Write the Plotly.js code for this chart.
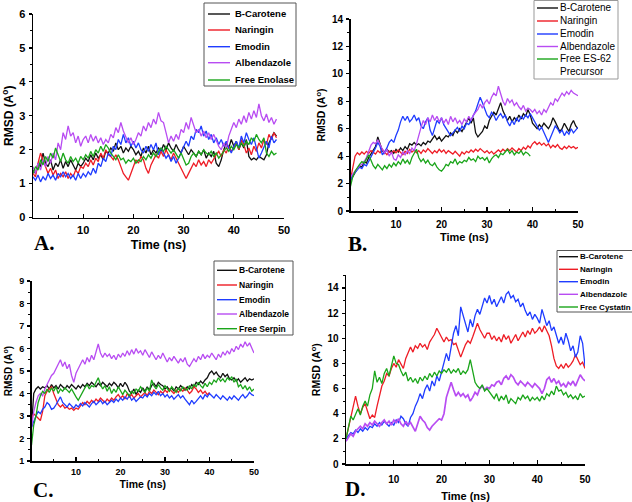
<!DOCTYPE html>
<html><head><meta charset="utf-8">
<script src="https://cdn.plot.ly/plotly-3.0.1.min.js"></script>
<style>html,body{margin:0;padding:0;background:#fff}#chart{width:632px;height:502px}</style>
</head><body><div id="chart"></div>
<script>
// ---------- data ----------
const time = [0,0.5,1,1.5,2,2.5,3,3.5,4,4.5,5,5.5,6,6.5,7,7.5,8,8.5,9,9.5,
  10,10.5,11,11.5,12,12.5,13,13.5,14,14.5,15,15.5,16,16.5,17,17.5,18,18.5,19,19.5,
  20,20.5,21,21.5,22,22.5,23,23.5,24,24.5,25,25.5,26,26.5,27,27.5,28,28.5,29,29.5,
  30,30.5,31,31.5,32,32.5,33,33.5,34,34.5,35,35.5,36,36.5,37,37.5,38,38.5,39,39.5,
  40,40.5,41,41.5,42,42.5,43,43.5,44,44.5,45,45.5,46,46.5,47,47.5,48,48.5,49,49.5,50];

const ligands = ["B-Carotene","Naringin","Emodin","Albendazole"];
const freeNames = ["Free Enolase","Free ES-62<br>Precursor","Free Serpin","Free Cystatin"];
const panelLabels = ["A.","B.","C.","D."];
const xTickVals = [10,20,30,40,50];
const xMinorVals = [5,15,25,35,45];

// Panel A (Enolase)
const aCarotene = [1.4,1.3,1.6,1.5,1.9,1.6,1.5,1.7,1.4,1.6,1.5,1.7,1.45,1.65,1.5,1.7,1.55,1.4,1.6,1.5,
  1.6,1.75,1.65,1.85,1.7,1.9,1.75,1.85,1.7,1.95,1.9,2.05,1.95,2.2,2.0,2.1,1.9,2.05,1.95,2.1,
  2.0,1.85,1.95,1.8,2.05,1.9,2.1,1.85,2.0,1.9,2.05,1.95,2.15,2.0,2.2,2.05,1.95,2.15,2.0,1.9,
  2.1,1.95,1.85,2.0,1.9,1.8,1.95,1.85,2.0,1.75,1.9,1.8,1.95,1.6,1.5,1.7,2.0,2.2,2.05,2.3,
  2.1,2.25,2.0,2.2,2.05,2.3,1.8,1.7,1.75,1.7,1.8,1.75,1.7,1.85,2.2,2.35,2.5,2.4];
const aNaringin = [1.3,1.2,1.6,1.9,1.7,1.5,1.3,1.45,1.25,1.4,1.15,1.3,1.2,1.35,1.15,1.3,1.2,1.4,1.3,1.5,
  1.45,1.6,1.5,1.7,1.55,1.75,1.65,1.9,1.75,2.0,1.85,1.8,1.7,1.85,1.7,1.5,1.3,1.2,1.1,1.3,
  1.5,1.7,1.6,1.8,1.7,1.45,1.3,1.55,1.7,1.85,1.75,1.95,1.8,2.0,1.85,1.7,1.9,1.75,1.6,1.45,
  1.25,1.15,1.3,1.45,1.6,1.5,1.7,1.55,1.65,1.5,1.7,1.6,1.75,1.85,1.95,1.8,2.0,1.9,2.1,1.95,
  2.05,2.2,2.0,2.3,2.15,1.9,2.05,1.85,2.1,1.95,2.2,2.05,2.3,2.15,2.45,2.3,2.5,2.35];
const aEmodin = [1.2,1.1,1.25,1.05,1.2,1.1,1.3,1.15,1.25,1.1,1.3,1.2,1.35,1.2,1.3,1.15,1.25,1.1,1.3,1.15,
  1.3,1.2,1.35,1.25,1.45,1.3,1.6,1.5,1.75,1.65,1.9,1.8,2.1,2.0,2.3,2.15,2.45,2.2,2.35,2.1,
  2.25,2.05,2.2,2.0,1.9,2.1,1.95,2.15,2.0,2.2,1.85,2.05,1.9,1.75,1.85,1.65,1.8,1.6,1.75,1.9,
  2.05,2.25,2.1,2.4,2.3,2.6,2.5,2.7,2.4,2.55,2.3,2.45,2.2,2.35,2.15,2.3,2.1,2.25,2.05,1.9,
  2.1,2.25,2.05,2.4,2.2,2.5,2.3,2.15,2.35,2.0,1.75,1.9,2.1,2.25,2.05,2.4,2.2,2.3];
const aAlbendazole = [1.5,1.3,1.6,1.4,1.7,1.5,1.8,1.6,1.9,1.7,2.2,2.0,2.5,2.3,2.7,2.4,2.5,2.2,2.4,2.1,
  2.3,2.4,2.2,2.45,2.25,2.4,2.2,2.35,2.15,2.3,2.2,2.45,2.35,2.65,2.5,2.8,2.55,2.4,2.2,2.35,
  2.15,2.3,2.5,2.4,2.7,2.55,2.8,2.65,2.9,2.75,3.1,2.85,2.8,2.5,2.2,2.4,2.25,2.45,2.3,2.6,
  2.5,2.8,2.6,2.95,2.7,2.5,2.6,2.4,2.55,2.35,2.5,2.3,2.45,2.25,2.1,2.0,2.2,2.05,2.4,2.6,
  2.8,2.65,2.9,2.75,3.0,2.8,3.1,2.9,3.15,2.95,3.35,3.0,2.85,3.05,2.8,2.95,2.75,2.9];
const aFree = [1.3,1.5,1.4,1.7,1.55,1.8,1.65,1.9,1.75,2.05,1.85,1.65,1.9,1.7,1.6,1.8,1.65,1.75,1.6,1.8,
  1.7,1.85,1.75,1.95,1.8,2.0,1.9,2.1,1.95,2.15,2.05,1.9,1.8,1.7,1.85,1.7,1.75,1.6,1.7,1.65,
  1.75,1.6,1.7,1.65,1.8,1.7,1.85,1.75,1.9,1.8,1.95,2.05,1.95,2.1,2.0,1.9,2.0,1.85,1.75,1.9,
  1.7,1.55,1.6,1.8,1.9,1.8,1.95,1.85,2.0,1.9,1.85,1.95,1.8,1.9,1.75,1.85,1.95,2.05,1.95,2.1,
  2.0,2.15,2.05,2.2,2.1,2.25,2.15,2.35,2.25,2.45,2.3,2.2,2.35,1.9,1.8,1.95,1.85,1.9];

// Panel B (ES-62 precursor)
const bCarotene = [2.2,2.5,2.9,3.1,3.3,3.2,3.6,3.5,3.9,4.2,4.4,4.7,5.4,4.8,4.4,4.2,4.5,4.3,4.4,4.2,
  4.5,4.3,4.6,4.4,4.7,4.5,4.9,4.8,5.0,4.8,4.9,4.75,5.0,4.85,5.1,5.0,5.3,5.5,5.2,5.4,
  5.1,5.3,5.5,5.4,5.7,5.5,5.9,5.7,6.0,5.8,6.1,6.5,6.8,6.4,6.8,5.7,5.4,5.6,5.8,6.2,
  6.0,6.6,6.9,7.2,7.0,7.5,7.9,7.3,7.0,6.6,6.9,6.5,6.8,6.6,7.0,6.7,7.1,6.9,7.4,7.0,
  6.4,6.2,6.0,6.3,6.1,6.4,6.2,6.0,6.3,6.8,6.5,6.1,5.8,6.0,6.4,6.1,5.8,6.3,6.6,6.2,6.0];
const bNaringin = [2.3,3.2,4.0,4.25,4.1,4.3,4.15,4.35,4.2,4.4,4.3,4.15,4.4,4.25,4.5,4.3,4.1,4.35,4.2,4.4,
  4.25,4.45,4.3,4.1,4.35,4.2,4.5,4.3,4.45,4.25,4.4,4.2,4.45,4.3,4.55,4.35,4.2,4.4,4.25,4.5,
  4.3,4.45,4.2,4.4,4.3,4.15,4.35,4.2,4.0,4.3,4.15,4.35,4.25,4.45,4.3,4.5,4.35,4.55,4.4,4.25,
  4.4,4.2,4.35,4.15,4.3,4.45,4.3,4.5,4.35,4.55,4.4,4.6,4.45,4.3,4.55,4.4,4.65,4.5,4.75,4.6,
  4.9,5.05,4.85,5.0,4.8,4.95,4.75,4.9,4.6,4.8,4.65,4.85,4.6,4.5,4.7,4.55,4.75,4.6,4.7,4.55,4.65];
const bEmodin = [2.2,2.6,2.8,3.0,3.2,3.1,3.4,3.3,3.6,3.9,4.3,4.6,5.0,4.7,4.1,4.3,4.6,5.0,5.2,5.0,
  5.5,5.9,6.5,6.9,6.6,6.9,6.5,6.7,7.0,6.6,6.8,6.2,6.0,6.5,6.8,5.9,5.5,6.1,6.6,6.4,
  6.8,6.3,6.0,5.8,5.5,5.7,5.9,6.1,5.8,6.2,6.0,6.4,6.3,6.6,6.9,7.3,7.8,8.3,7.9,7.4,
  7.0,6.8,7.2,7.0,6.6,6.9,7.1,6.8,7.0,6.5,6.2,6.6,6.3,6.8,6.5,6.9,6.7,7.0,6.8,7.1,
  6.8,6.4,6.1,5.9,6.1,5.7,5.4,5.0,5.4,5.8,6.2,6.0,5.7,5.9,5.5,5.8,5.6,6.0,5.7,5.9,6.1];
const bAlbendazole = [2.5,2.7,2.9,3.1,3.3,3.4,3.6,3.9,4.4,4.8,5.0,4.9,5.2,4.8,4.5,4.2,4.5,4.0,4.3,3.8,
  3.7,4.1,3.9,4.3,4.1,4.4,4.2,4.6,4.4,4.9,5.6,6.1,6.6,6.3,6.8,6.5,7.0,6.6,6.9,6.5,
  6.8,6.4,6.7,6.3,6.9,6.5,6.8,6.4,6.6,6.3,6.7,6.5,6.9,6.6,7.0,7.2,7.4,7.8,7.5,7.9,
  8.1,7.8,8.3,8.6,8.4,9.1,8.5,8.0,7.7,8.2,7.9,8.1,7.7,7.9,7.6,7.4,7.7,7.3,7.5,7.4,
  7.2,7.4,7.1,7.3,7.0,7.4,7.2,7.6,7.9,7.7,8.2,8.0,8.3,8.6,8.4,8.7,8.5,8.8,8.6,8.5,8.4];
const bFree = [1.8,2.5,2.9,3.2,3.4,3.6,3.5,3.8,4.1,3.7,3.3,3.1,3.4,3.2,3.0,3.3,3.1,3.4,3.2,3.5,
  3.3,3.6,3.4,3.8,3.5,3.7,3.4,3.9,4.2,4.5,3.9,3.6,3.8,3.5,3.7,3.4,3.3,3.5,3.2,3.0,
  2.9,3.1,3.4,3.3,3.6,3.5,3.8,3.4,3.6,3.5,3.7,3.6,3.9,3.7,3.8,3.6,4.0,3.8,3.9,3.7,
  3.9,3.5,3.8,4.0,4.1,3.9,4.2,4.1,4.3,4.5,4.2,4.4,4.1,4.3,4.2,4.4,4.1,4.3,4.2,4.0];

// Panel C (Serpin)
const cCarotene = [2.5,4.0,4.2,4.3,4.2,4.3,4.25,4.35,4.2,4.4,4.25,4.35,4.2,4.4,4.3,4.2,4.35,4.25,4.4,4.3,
  4.2,4.35,4.25,4.4,4.3,4.45,4.35,4.5,4.4,4.3,4.45,4.35,4.5,4.4,4.3,4.45,4.35,4.5,4.4,4.25,
  4.45,4.3,4.5,4.35,4.1,4.0,4.2,3.95,4.15,4.05,4.25,4.1,4.3,4.15,4.35,4.45,4.3,4.5,4.4,4.35,
  4.2,4.3,4.15,4.25,4.1,4.3,4.2,4.35,4.25,4.15,4.3,4.2,4.4,4.3,4.5,4.4,4.55,4.45,4.6,4.7,
  4.9,5.0,4.85,4.95,4.8,4.7,4.9,4.75,4.85,4.65,4.6,4.7,4.55,4.65,4.5,4.6,4.7,4.55,4.65,4.6,4.65];
const cNaringin = [2.9,3.1,3.0,2.9,2.8,3.2,3.9,4.1,4.2,4.3,4.0,3.7,3.5,3.4,3.5,3.35,3.4,3.3,3.35,3.25,
  3.35,3.3,3.45,3.6,3.5,3.65,3.55,3.7,3.6,3.75,3.65,3.8,3.7,3.6,3.75,3.65,3.8,3.7,3.85,3.95,
  3.8,3.9,3.75,4.0,3.85,3.95,3.8,3.9,4.0,3.85,3.95,4.05,3.9,4.1,4.0,4.15,4.05,3.95,4.1,4.0,
  4.15,4.05,4.2,4.1,4.0,4.15,4.05,4.2,4.1,4.25,4.15,4.0,4.1,4.3,4.2,4.05,4.15,4.0,4.1,3.95,4.05];
const cEmodin = [2.5,2.8,3.0,3.2,3.1,3.3,3.4,3.6,3.5,3.3,3.35,3.5,3.7,3.85,3.6,3.5,3.4,3.55,3.45,3.35,
  3.5,3.4,3.55,3.45,3.6,3.5,3.4,3.55,3.65,3.5,3.6,3.7,3.55,3.65,3.5,3.6,3.7,3.6,3.75,3.65,
  3.8,3.7,3.85,3.75,3.9,3.7,3.8,3.65,3.75,3.85,3.8,3.95,3.85,4.0,3.9,4.05,3.95,4.1,3.9,4.0,
  3.85,3.95,3.8,3.9,3.75,3.85,3.95,3.8,3.9,3.75,3.6,3.5,3.7,3.55,3.65,3.8,3.9,3.75,3.95,3.85,
  4.0,3.9,3.8,3.95,3.85,3.75,3.9,3.8,3.7,3.85,3.75,3.9,3.8,3.7,3.85,3.95,3.8,3.9,4.05,3.95,3.9];
const cAlbendazole = [2.5,3.2,3.6,3.9,4.0,3.9,4.2,4.4,4.6,4.8,4.9,5.1,5.3,5.5,5.2,5.4,5.1,5.3,4.8,4.5,
  4.9,5.1,5.3,5.5,5.3,5.6,5.4,5.7,5.5,5.8,6.2,5.8,5.6,5.8,5.65,5.75,5.55,5.7,5.5,5.75,
  5.6,5.8,5.65,5.9,5.7,5.95,5.75,6.0,5.8,5.9,5.7,5.95,5.75,5.6,5.85,5.65,5.5,5.7,5.55,5.8,
  5.6,5.4,5.6,5.45,5.65,5.5,5.35,5.55,5.4,5.6,5.3,5.2,5.4,5.55,5.4,5.65,5.5,5.75,5.55,5.7,
  5.6,5.8,5.65,5.5,5.75,5.6,5.85,5.7,5.9,5.75,6.0,5.85,6.1,5.95,6.2,6.05,6.3,6.1,6.25,6.0,5.8];
const cFree = [1.7,2.6,3.0,3.6,3.9,4.1,4.0,4.2,4.05,4.25,4.1,4.3,4.0,4.2,4.1,4.25,4.15,4.05,4.2,4.0,
  3.85,3.7,3.9,4.1,4.25,4.4,4.2,4.35,4.3,4.5,4.7,4.4,4.2,4.35,4.1,4.3,4.0,4.2,4.05,4.3,
  4.1,3.95,4.15,4.0,3.9,4.1,4.0,4.2,4.1,4.3,4.15,4.05,4.25,4.1,4.6,4.35,4.2,4.4,4.25,4.15,
  4.35,4.2,4.1,4.3,4.15,4.05,4.25,4.1,4.3,4.2,4.15,4.35,4.2,4.4,4.3,4.5,4.35,4.25,4.45,4.3,
  4.5,4.4,4.6,4.5,4.7,4.55,4.65,4.5,4.7,4.6,4.75,4.5,4.65,4.3,4.4,4.2,4.35,4.15,4.3,4.1,4.2];

// Panel D (Cystatin) - B-Carotene trace not visible in the figure
const dCarotene = [];
const dNaringin = [2.0,2.8,3.6,4.6,5.4,4.6,4.0,4.5,4.8,4.2,3.6,3.9,3.7,4.6,5.5,6.2,6.6,7.2,7.0,7.6,
  8.0,7.7,8.3,7.9,7.6,8.4,8.9,9.3,8.9,9.4,9.2,9.6,9.3,9.5,9.1,9.7,10.0,10.3,10.8,10.4,
  10.0,9.7,10.1,9.8,9.9,9.5,9.6,9.1,8.5,9.0,9.5,9.8,9.6,10.1,10.6,11.2,10.7,10.3,10.0,10.4,
  10.4,9.9,10.2,9.8,10.1,9.7,10.3,9.9,10.2,9.6,10.0,10.3,9.8,10.2,10.5,10.1,10.6,10.3,10.8,10.4,
  10.6,10.9,10.5,11.0,10.6,10.2,9.4,8.4,7.8,7.6,7.9,7.6,8.0,7.7,7.9,8.2,8.7,8.3,7.9,8.1,7.6];
const dEmodin = [2.0,2.3,2.5,2.4,2.7,2.5,2.8,2.6,2.9,2.7,3.0,2.9,3.2,3.0,3.3,3.1,3.4,3.2,3.0,3.3,
  3.1,3.5,3.3,3.8,3.6,3.2,3.0,3.7,4.0,4.6,5.0,5.6,5.2,5.9,6.3,5.8,6.6,6.2,7.0,6.6,
  7.4,8.0,8.8,8.2,9.5,10.4,11.0,10.2,12.5,11.8,11.0,10.5,11.5,10.9,11.8,12.3,11.9,12.6,13.2,12.8,
  13.4,12.7,13.1,12.5,12.9,13.3,12.8,13.5,13.7,13.2,13.4,12.9,13.1,12.5,12.8,12.2,11.8,12.1,11.5,11.9,
  11.6,11.2,12.3,11.7,11.0,11.4,10.6,10.9,10.2,9.6,10.1,9.5,10.4,9.8,9.0,9.4,8.5,8.9,10.2,9.6,7.8];
const dAlbendazole = [1.8,2.1,2.4,2.2,2.6,2.8,3.0,2.8,3.2,3.0,3.3,3.1,3.4,3.2,3.0,3.3,3.5,3.2,3.4,3.1,
  3.5,3.3,3.6,3.2,3.0,3.4,3.1,3.3,2.9,2.6,3.2,3.8,3.5,3.3,2.9,2.7,3.0,3.2,3.4,3.6,
  3.5,4.0,5.3,6.0,6.5,5.9,5.4,5.7,5.4,5.6,5.3,5.5,5.0,5.3,5.7,5.5,6.0,6.2,5.9,6.1,
  6.0,6.3,6.2,6.5,6.6,6.3,6.8,7.0,6.7,7.1,6.9,6.5,6.3,6.6,6.4,6.2,6.5,6.3,6.1,6.4,
  6.2,6.0,5.6,6.0,6.7,6.9,6.5,6.8,6.4,6.6,6.2,6.4,6.1,6.5,6.3,6.6,6.2,6.7,7.1,6.8,6.6];
const dFree = [2.0,3.0,3.8,3.5,4.0,4.4,3.9,4.6,5.0,4.6,5.5,6.0,7.4,6.5,6.9,6.4,7.2,7.6,7.0,7.8,
  8.6,8.0,7.9,7.4,7.0,7.3,6.6,6.9,6.5,6.8,6.4,6.9,6.6,7.0,6.7,7.2,6.9,7.3,7.0,7.4,
  7.2,7.5,7.3,7.6,7.2,7.5,7.3,7.6,7.1,7.4,7.2,7.5,8.3,7.4,6.5,6.2,6.0,6.3,5.8,6.0,
  5.7,5.5,5.2,5.6,5.0,5.4,5.1,5.5,4.8,5.2,5.0,4.8,5.3,5.1,5.5,5.2,5.4,5.0,5.3,5.1,
  5.3,5.0,5.4,5.1,5.6,5.4,5.8,5.5,6.2,5.8,5.9,5.5,5.7,5.3,5.5,5.2,5.4,5.1,5.6,5.3,5.4];

// ---------- style ----------
const COLORS = ["#111111","#ee1c25","#1f3cff","#b84cf2","#1aa51a"];
const F = "Liberation Sans, Arial, sans-serif";
const W = 632, H = 502;

const panels = [
  {series:[aCarotene,aNaringin,aEmodin,aAlbendazole,aFree], free:freeNames[0]},
  {series:[bCarotene,bNaringin,bEmodin,bAlbendazole,bFree], free:freeNames[1]},
  {series:[cCarotene,cNaringin,cEmodin,cAlbendazole,cFree], free:freeNames[2]},
  {series:[dCarotene,dNaringin,dEmodin,dAlbendazole,dFree], free:freeNames[3]}
];

const traces = [];
panels.forEach((p, pi) => {
  const sfx = pi === 0 ? "" : String(pi + 1);
  const names = ligands.concat([p.free]);
  p.series.forEach((ys, si) => {
    traces.push({
      type: "scatter", mode: "lines",
      x: time.slice(0, ys.length), y: ys,
      name: names[si].replace("<br>", " "),
      line: {color: COLORS[si], width: (pi === 3 && si === 3) ? 1.7 : 1.3},
      xaxis: "x" + sfx, yaxis: "y" + sfx,
      showlegend: false, hoverinfo: "skip"
    });
  });
});

// panel geometry in pixels
const geo = [
  {x0:33, x1:284, yb:217.5, yt:14, yr:[0,6], dt:1, mdt:0.5, tf:11, ttf:12.5, tls:2, xs:5},
  {x0:350.5, x1:578, yb:211, yt:19, yr:[0,14], dt:2, mdt:1, tf:10, ttf:11, tls:3, xs:5},
  {x0:31.5, x1:254, yb:461, yt:281, yr:[1,9], dt:1, mdt:0.5, tf:9, ttf:10.5, tls:2, xs:4},
  {x0:346, x1:585, yb:464, yt:275.4, yr:[0,15], dt:2, mdt:1, tf:10, ttf:11, tls:5, xs:9}
];

// legend boxes (pixels): box, sample line x-range, text x, item centres, font
const legGeo = [
  {bx0:204, bx1:296, by0:3, by1:86, lx0:208, lx1:230, tx:234, ys:[14,30,46.7,62.7,80], fs:9.5, bold:true, bc:"#555"},
  {bx0:534, bx1:618, by0:0.5, by1:79, lx0:537, lx1:558, tx:559, ys:[8,21,34,46.5,59], fs:10, bold:false, bc:"#999"},
  {bx0:214, bx1:293, by0:261, by1:335, lx0:217, lx1:237, tx:238, ys:[270.3,285,299.7,314,328.7], fs:8.5, bold:true, bc:"#555"},
  {bx0:557, bx1:640, by0:250.5, by1:312, lx0:559, lx1:578, tx:579, ys:[256.7,269.3,281.7,294.3,307], fs:8, bold:true, bc:"#555"}
];

const layout = {
  width: W, height: H, margin: {l:0, r:0, t:0, b:0},
  paper_bgcolor: "#fff", plot_bgcolor: "rgba(0,0,0,0)",
  showlegend: false, annotations: [], shapes: []
};

geo.forEach((g, i) => {
  const sfx = i === 0 ? "" : String(i + 1);
  const tick = {family:F, size:g.tf, color:"#000", weight:"bold"};
  layout["xaxis" + sfx] = {
    domain:[g.x0/W, g.x1/W], range:[0,50], anchor:"y" + sfx,
    showline:true, linecolor:"#000", linewidth:1.5, mirror:false,
    showgrid:false, zeroline:false,
    tickmode:"array", tickvals:xTickVals, ticks:"inside", ticklen:4, tickwidth:1.2, tickcolor:"#000",
    minor:{tickmode:"array", tickvals:xMinorVals, ticks:"inside", ticklen:2.5, tickwidth:1, tickcolor:"#000"},
    tickfont:tick, ticklabelstandoff:g.tls,
    title:{text:"Time (ns)", font:{family:F, size:g.ttf, color:"#000", weight:"bold"}, standoff:g.xs},
    fixedrange:true
  };
  layout["yaxis" + sfx] = {
    domain:[1 - g.yb/H, 1 - g.yt/H], range:g.yr, anchor:"x" + sfx,
    showline:true, linecolor:"#000", linewidth:1.5, mirror:false,
    showgrid:false, zeroline:false,
    tickmode:"linear", tick0:0, dtick:g.dt, ticks:"outside", ticklen:3, tickwidth:1.2, tickcolor:"#000",
    minor:{dtick:g.mdt, tick0:0, ticks:"outside", ticklen:2, tickwidth:1, tickcolor:"#000"},
    tickfont:tick, ticklabelstandoff:1,
    title:{text:"RMSD (A<sup>o</sup>)", font:{family:F, size:g.ttf - 0.5, color:"#000", weight:"bold"}, standoff:4},
    fixedrange:true
  };
});

// legends drawn as boxes + sample lines + labels
legGeo.forEach((L, i) => {
  const names = ligands.concat([freeNames[i]]);
  layout.shapes.push({type:"rect", xref:"paper", yref:"paper", layer:"above",
    x0:L.bx0/W, x1:L.bx1/W, y0:1 - L.by1/H, y1:1 - L.by0/H,
    fillcolor:"#fff", line:{color:L.bc, width:1}});
  names.forEach((nm, k) => {
    const yc = 1 - L.ys[k]/H;
    layout.shapes.push({type:"line", xref:"paper", yref:"paper", layer:"above",
      x0:L.lx0/W, x1:L.lx1/W, y0:yc, y1:yc, line:{color:COLORS[k], width:1.4}});
    const multi = nm.indexOf("<br>") >= 0;
    layout.annotations.push({text:nm, xref:"paper", yref:"paper", showarrow:false,
      x:L.tx/W, y:multi ? yc + (L.fs*0.72)/H : yc, xanchor:"left", yanchor:multi ? "top" : "middle",
      align:"left", borderpad:0,
      font:{family:F, size:L.fs, color:"#000", weight:L.bold ? "bold" : "normal"}});
  });
});

const labelPos = [[44,243],[357,244],[43,490],[355,489]];
panelLabels.forEach((t, i) => {
  layout.annotations.push({
    text:t, xref:"paper", yref:"paper", x:labelPos[i][0]/W, y:1 - labelPos[i][1]/H,
    xanchor:"center", yanchor:"middle", showarrow:false, borderpad:0,
    font:{family:"Liberation Serif, Times New Roman, serif", size:21, color:"#000", weight:"bold"}
  });
});

Plotly.newPlot("chart", traces, layout, {displayModeBar:false, staticPlot:true});
</script>
</body></html>
